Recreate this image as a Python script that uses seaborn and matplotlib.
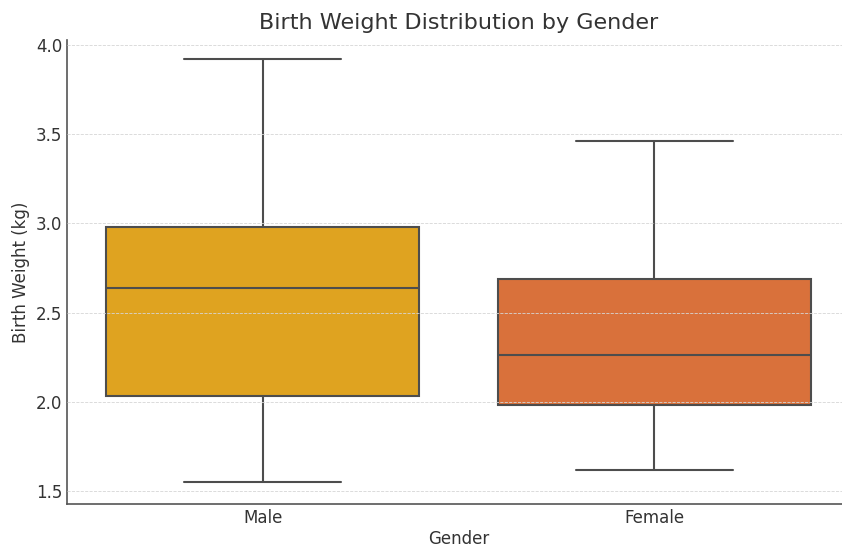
import pandas as pd
import matplotlib
matplotlib.use("Agg")
import matplotlib.pyplot as plt
import seaborn as sns

# Five-number summaries (whisker low, Q1, median, Q3, whisker high)
genders = ["Male", "Female"]
male_weights = [1.55, 2.03, 2.64, 2.98, 3.92]
female_weights = [1.62, 1.98, 2.26, 2.69, 3.46]
box_colors = ["#DFA320", "#D9713B"]

data = pd.DataFrame({
    "Gender": ["Male"] * len(male_weights) + ["Female"] * len(female_weights),
    "Birth Weight (kg)": male_weights + female_weights,
})

sns.set_style("white")
plt.rcParams["font.family"] = ["DejaVu Sans"]
plt.rcParams["xtick.direction"] = "in"
plt.rcParams["ytick.direction"] = "in"

fig = plt.figure(figsize=(8.42, 5.5), dpi=100)
# axes run a little past the right edge, as in the reference crop
ax = fig.add_axes([67 / 842, 46 / 550, 783 / 842, 464 / 550])

line_col = "#4d4d4d"
sns.boxplot(x="Gender", y="Birth Weight (kg)", data=data, order=genders,
            hue="Gender", hue_order=genders, palette=box_colors, legend=False,
            saturation=1, width=0.8, linewidth=1.5, linecolor=line_col,
            whis=1.5, ax=ax)

ax.set_xlim(-0.5, 1.5)
ax.set_ylim(1.427, 4.028)
ax.set_yticks([1.5, 2.0, 2.5, 3.0, 3.5, 4.0])

ax.set_axisbelow(False)
ax.yaxis.grid(True, linestyle="--", linewidth=0.6, color="#d6d6d6", zorder=5)
ax.xaxis.grid(False)

for side in ["top", "right"]:
    ax.spines[side].set_visible(False)
for side in ["left", "bottom"]:
    ax.spines[side].set_color("#555555")
    ax.spines[side].set_linewidth(1.2)

ax.tick_params(axis="both", labelsize=12, colors="#333333", length=4, width=1)
ax.set_title("Birth Weight Distribution by Gender", fontsize=16, color="#333333", pad=8)
ax.set_xlabel("Gender", fontsize=12, color="#333333", labelpad=2)
ax.set_ylabel("Birth Weight (kg)", fontsize=12, color="#333333")

fig.savefig("out.png", dpi=100)
